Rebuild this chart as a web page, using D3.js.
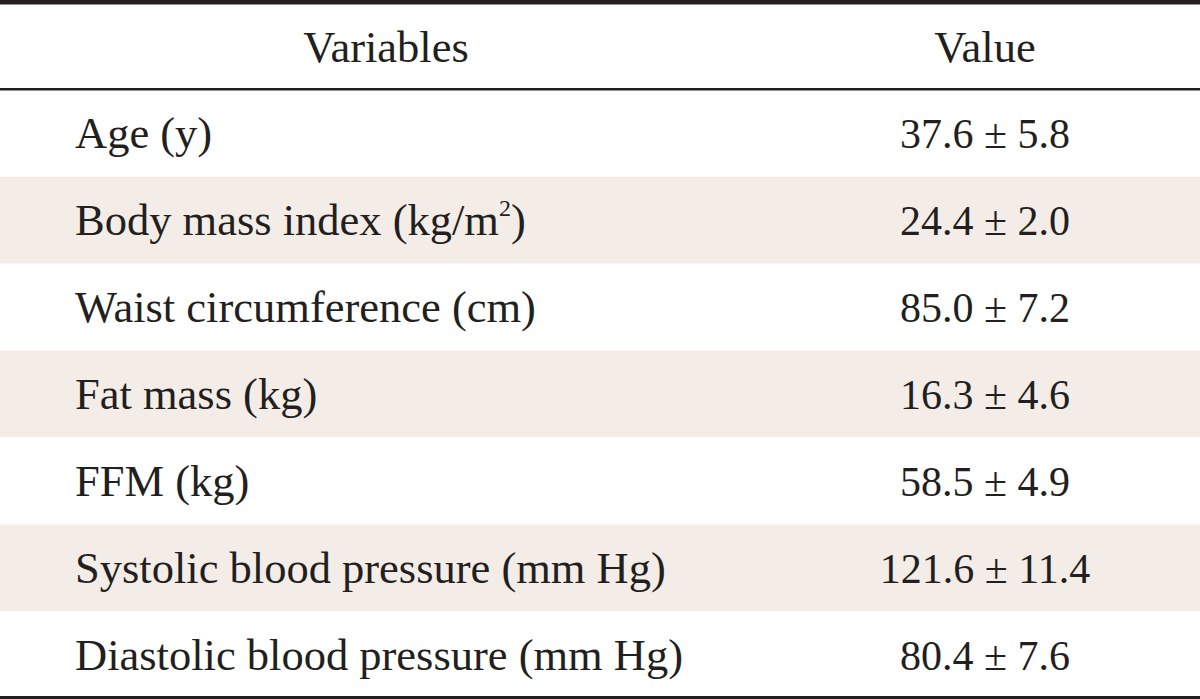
<!DOCTYPE html>
<html><head><meta charset="utf-8">
<script src="https://cdn.jsdelivr.net/npm/d3@7"></script>
<style>html,body{margin:0;padding:0;background:#fff;}svg{display:block;}</style>
</head><body>
<svg id="c" width="1200" height="699"></svg>
<script>
const headers = ["Variables", "Value"];
const variables = ["Age (y)", "Body mass index (kg/m²)", "Waist circumference (cm)", "Fat mass (kg)", "FFM (kg)", "Systolic blood pressure (mm Hg)", "Diastolic blood pressure (mm Hg)"];
const means = ["37.6", "24.4", "85.0", "16.3", "58.5", "121.6", "80.4"];
const sds = ["5.8", "2.0", "7.2", "4.6", "4.9", "11.4", "7.6"];

const W = 1200, H = 699;
const svg = d3.select("#c");
const font = "'Liberation Serif', 'DejaVu Serif', serif";
const fsLabel = 44.5;
const fsVal = 42;

const y = d3.scaleBand().domain(d3.range(variables.length)).range([90, 698]);
const x = d3.scalePoint().domain(headers).range([386, 985]);

svg.selectAll("rect.row").data(variables).enter().append("rect")
  .attr("x", 0).attr("width", W)
  .attr("y", (d,i)=>y(i)).attr("height", y.bandwidth())
  .attr("fill", (d,i)=> i%2===1 ? "#f4ede7" : "#fff");

svg.append("rect").attr("x",0).attr("y",0).attr("width",W).attr("height",4.5).attr("fill","#231f20");
svg.append("rect").attr("x",0).attr("y",88).attr("width",W).attr("height",2.5).attr("fill","#231f20");
svg.append("rect").attr("x",0).attr("y",696).attr("width",W).attr("height",3).attr("fill","#231f20");

svg.selectAll("text.h").data(headers).enter().append("text")
  .attr("x", d=>x(d)).attr("y", 62)
  .attr("text-anchor","middle").attr("font-family",font).attr("font-size",fsLabel).attr("fill","#231f20")
  .text(d=>d);

const vt = svg.selectAll("text.v").data(variables).enter().append("text")
  .attr("x", 75).attr("y", (d,i)=>y(i)+y.bandwidth()/2+15)
  .attr("font-family",font).attr("font-size",fsLabel).attr("fill","#231f20");
vt.each(function(d){
  const t = d3.select(this);
  if (d.includes("²")) {
    const parts = d.split("²");
    t.append("tspan").text(parts[0]);
    t.append("tspan").attr("dy",-19).attr("font-size",24).text("2");
    t.append("tspan").attr("dy",19).text(parts[1]);
  } else t.text(d);
});

svg.selectAll("text.val").data(means).enter().append("text")
  .attr("x", x("Value")).attr("y", (d,i)=>y(i)+y.bandwidth()/2+15)
  .attr("text-anchor","middle").attr("font-family",font).attr("font-size",fsVal).attr("fill","#231f20")
  .text((d,i)=> d + " ± " + sds[i]);
</script>
</body></html>
